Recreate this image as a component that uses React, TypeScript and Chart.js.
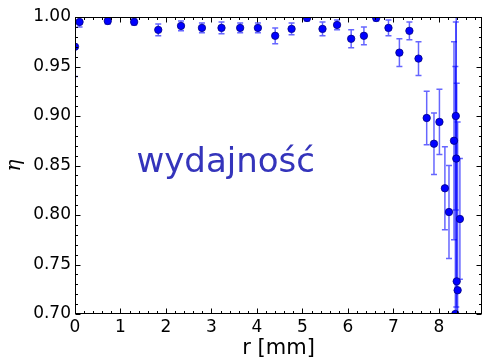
import { useEffect, useRef } from "react";
import { Chart, registerables } from "chart.js";

Chart.register(...registerables);

// ---- data ----
const radius = [
  0.0, 0.1, 0.72, 1.3, 1.83, 2.33, 2.79, 3.22, 3.63, 4.02, 4.4, 4.76, 5.1, 5.44, 5.76,
  6.07, 6.35, 6.62, 6.89, 7.13, 7.35, 7.55, 7.73, 7.89, 8.01, 8.13, 8.22, 8.33, 8.37,
  8.38, 8.46, 8.39, 8.41, 8.36,
];
const efficiency = [
  0.97, 0.995, 0.996, 0.995, 0.987, 0.991, 0.989, 0.989, 0.989, 0.989, 0.981, 0.988,
  0.999, 0.988, 0.992, 0.978, 0.981, 0.999, 0.989, 0.964, 0.986, 0.958, 0.898, 0.872,
  0.894, 0.827, 0.803, 0.875, 0.9, 0.857, 0.796, 0.733, 0.724, 0.7,
];
const efficiencyErr = [
  0.03, 0.005, 0.003, 0.003, 0.006, 0.005, 0.005, 0.006, 0.005, 0.005, 0.008, 0.006,
  0.003, 0.007, 0.005, 0.009, 0.009, 0.003, 0.008, 0.014, 0.009, 0.017, 0.027, 0.031,
  0.033, 0.042, 0.047, 0.1, 0.095, 0.15, 0.061, 0.2, 0.17, 0.25,
];
const xTicks = [0, 1, 2, 3, 4, 5, 6, 7, 8];
const yTicks = [0.7, 0.75, 0.8, 0.85, 0.9, 0.95, 1.0];
const xLabel = "r [mm]";
const yLabel = "η";
const annotationText = "wydajność";

const FONT = "'DejaVu Sans', sans-serif";

const errorBarPlugin = {
  id: "errorBars",
  beforeDatasetsDraw(chart: any) {
    const { ctx, chartArea: a, scales } = chart;
    const x = scales.x;
    const y = scales.y;
    ctx.save();
    ctx.beginPath();
    ctx.rect(a.left, a.top, a.right - a.left, a.bottom - a.top);
    ctx.clip();
    ctx.strokeStyle = "rgba(0,0,255,0.6)";
    ctx.lineWidth = 1.5;
    for (let i = 0; i < radius.length; i++) {
      const px = x.getPixelForValue(radius[i]);
      const yHi = y.getPixelForValue(efficiency[i] + efficiencyErr[i]);
      const yLo = y.getPixelForValue(efficiency[i] - efficiencyErr[i]);
      ctx.beginPath();
      ctx.moveTo(px, yHi);
      ctx.lineTo(px, yLo);
      ctx.moveTo(px - 3, yHi);
      ctx.lineTo(px + 3, yHi);
      ctx.moveTo(px - 3, yLo);
      ctx.lineTo(px + 3, yLo);
      ctx.stroke();
    }
    ctx.restore();
  },
};

const framePlugin = {
  id: "frame",
  afterDatasetsDraw(chart: any) {
    const { ctx, chartArea: a, scales } = chart;
    const x = scales.x;
    const y = scales.y;
    ctx.save();
    ctx.strokeStyle = "#000";
    ctx.lineWidth = 1;
    const L = Math.round(a.left) + 0.5;
    const R = Math.round(a.right) - 0.5;
    const T = Math.round(a.top) + 0.5;
    const B = Math.round(a.bottom) - 0.5;
    ctx.beginPath();
    for (let k = 0; k <= 44; k++) {
      const v = k * 0.2;
      if (v > x.max + 1e-9) break;
      const major = k % 5 === 0;
      const len = major ? 5 : 2.5;
      const px = Math.round(x.getPixelForValue(v)) + 0.5;
      ctx.moveTo(px, B);
      ctx.lineTo(px, B - len);
      ctx.moveTo(px, T);
      ctx.lineTo(px, T + len);
    }
    for (let k = 70; k <= 100; k++) {
      const v = k / 100;
      const major = k % 5 === 0;
      const len = major ? 5 : 2.5;
      const py = Math.round(y.getPixelForValue(v)) + 0.5;
      ctx.moveTo(L, py);
      ctx.lineTo(L + len, py);
      ctx.moveTo(R, py);
      ctx.lineTo(R - len, py);
    }
    ctx.stroke();
    ctx.strokeRect(L, T, R - L, B - T);

    ctx.fillStyle = "#3434bb";
    ctx.font = "34px 'DejaVu Sans', sans-serif";
    ctx.textBaseline = "alphabetic";
    ctx.textAlign = "left";
    ctx.fillText(annotationText, x.getPixelForValue(1.35), y.getPixelForValue(0.843));
    ctx.restore();
  },
};

export default function App() {
  const ref = useRef<HTMLCanvasElement>(null);
  useEffect(() => {
    document.body.style.margin = "0";
    const chart = new Chart(ref.current as HTMLCanvasElement, {
      type: "scatter",
      data: {
        datasets: [
          {
            data: radius.map((r, i) => ({ x: r, y: efficiency[i] })),
            pointRadius: 3.7,
            backgroundColor: "#0000ff",
            borderColor: "#000080",
            borderWidth: 0.8,
            clip: 0,
          } as any,
        ],
      },
      options: {
        animation: false,
        responsive: false,
        devicePixelRatio: 1,
        layout: { padding: { top: 17, right: 3, left: 0, bottom: 0 } },
        plugins: { legend: { display: false }, tooltip: { enabled: false } },
        scales: {
          x: {
            type: "linear",
            min: 0,
            max: 8.95,
            grid: { display: false, drawTicks: false },
            border: { display: false },
            afterBuildTicks: (s: any) => {
              s.ticks = xTicks.map((v) => ({ value: v }));
            },
            afterFit: (s: any) => {
              s.height = 47;
            },
            ticks: {
              color: "#000",
              font: { family: FONT, size: 17 },
              padding: 3,
              maxRotation: 0,
              autoSkip: false,
              callback: (v: any) => String(v),
            },
            title: {
              display: true,
              text: xLabel,
              color: "#000",
              font: { family: FONT, size: 21 },
              padding: { top: 0, bottom: 0 },
            },
          },
          y: {
            type: "linear",
            min: 0.7,
            max: 1.0,
            grid: { display: false, drawTicks: false },
            border: { display: false },
            afterBuildTicks: (s: any) => {
              s.ticks = yTicks.map((v) => ({ value: v }));
            },
            afterFit: (s: any) => {
              s.width = 75;
            },
            ticks: {
              color: "#000",
              font: { family: FONT, size: 17 },
              padding: 4,
              autoSkip: false,
              callback: (v: any) => Number(v).toFixed(2),
            },
            title: {
              display: true,
              text: yLabel,
              color: "#000",
              font: { family: "'DejaVu Serif', serif", size: 20, style: "italic" },
              padding: { top: 3, bottom: 0 },
            },
          },
        },
      },
      plugins: [errorBarPlugin, framePlugin],
    });
    return () => chart.destroy();
  }, []);
  return (
    <div style={{ width: 487, height: 361 }}>
      <canvas ref={ref} width={487} height={361} style={{ display: "block" }} />
    </div>
  );
}
